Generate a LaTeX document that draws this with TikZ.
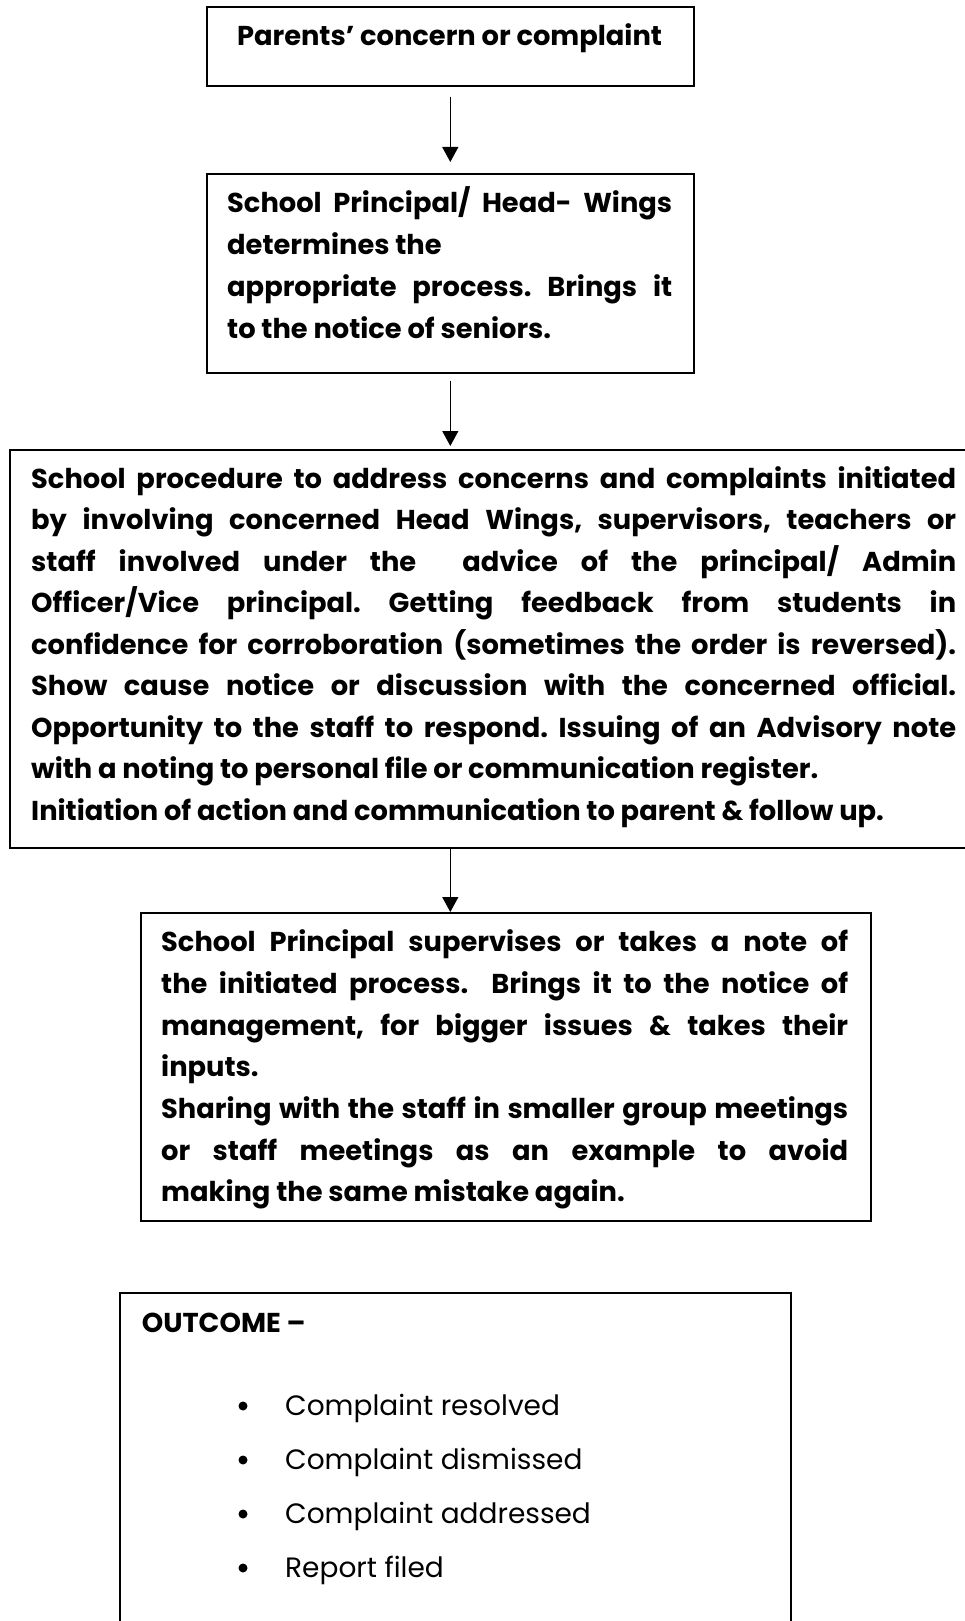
\documentclass[tikz,border=0pt]{standalone}
\usepackage{fontspec}
\setmainfont{Poppins}
\usetikzlibrary{arrows.meta}
\newcommand\Jl[1]{\hbox to \hsize{#1}}
\newcommand\Ll[1]{\hbox to \hsize{#1\hfil}}
\frenchspacing
\tikzset{
  box/.style={draw=black, line width=1.6pt, rectangle, inner sep=0pt, anchor=north west},
  txt/.style={inner sep=0pt, anchor=base west, font=\fontsize{27.3}{33}\selectfont\bfseries},
  item/.style={inner sep=0pt, anchor=base west, font=\fontsize{28}{34}\selectfont},
  bullet/.style={circle, fill=black, inner sep=0pt, minimum size=9pt},
  arr/.style={-{Triangle[width=16pt,length=15pt]}, line width=1.3pt},
}
\begin{document}
\begin{tikzpicture}[x=1pt,y=-1pt]
\useasboundingbox (0,0) rectangle (964,1621);
% boxes
\node[box, minimum width=487pt, minimum height=79pt] (b1) at (206,6) {};
\node[box, minimum width=487pt, minimum height=199pt] (b2) at (206,173) {};
\node[box, minimum width=975pt, minimum height=398pt] (b3) at (9,449) {};
\node[box, minimum width=730pt, minimum height=308pt] (b4) at (140,912) {};
\node[box, minimum width=671pt, minimum height=400pt] (b5) at (119,1292) {};
% texts
\node[txt, anchor=base] (t1) at (449.5,46) {Parents’ concern or complaint};
\node[txt] (t2) at (227,213) {\vtop{\hsize=445pt\baselineskip=41.67pt
  \Jl{School Principal/ Head- Wings}
  \Ll{determines the}
  \Jl{appropriate process. Brings it}
  \Ll{to the notice of seniors.}}};
\node[txt] (t3) at (31,488.5) {\vtop{\hsize=925pt\baselineskip=41.45pt
  \Jl{School procedure to address concerns and complaints initiated}
  \Jl{by involving concerned Head Wings, supervisors, teachers or}
  \Jl{staff involved under the\ \ advice of the principal/ Admin}
  \Jl{Officer/Vice principal. Getting feedback from students in}
  \Jl{confidence for corroboration (sometimes the order is reversed).}
  \Jl{Show cause notice or discussion with the concerned official.}
  \Jl{Opportunity to the staff to respond. Issuing of an Advisory note}
  \Ll{with a noting to personal file or communication register.}
  \Ll{Initiation of action and communication to parent \& follow up.}}};
\node[txt] (t4) at (161,951.7) {\vtop{\hsize=687pt\baselineskip=41.67pt
  \Jl{School Principal supervises or takes a note of}
  \Jl{the initiated process.\ \ Brings it to the notice of}
  \Jl{management, for bigger issues \& takes their}
  \Ll{inputs.}
  \Jl{Sharing with the staff in smaller group meetings}
  \Jl{or staff meetings as an example to avoid}
  \Ll{making the same mistake again.}}};
\node[txt] (t5) at (141.7,1332.3) {OUTCOME –};
\node[bullet] (d1) at (243,1406) {};
\node[bullet] (d2) at (243,1460) {};
\node[bullet] (d3) at (243,1514) {};
\node[bullet] (d4) at (243,1568) {};
\node[item] (i1) at (285,1415) {Complaint resolved};
\node[item] (i2) at (285,1469) {Complaint dismissed};
\node[item] (i3) at (285,1523) {Complaint addressed};
\node[item] (i4) at (285,1577) {Report filed};
% arrows
\draw[arr, shorten <=10pt, shorten >=11pt] (b1.south) -- (b2.north);
\draw[arr, shorten <=7pt, shorten >=3pt] (b2.south) -- (b2.south |- b3.north);
\draw[arr] (b2.south |- b3.south) -- (b2.south |- b4.north);
\end{tikzpicture}
\end{document}
